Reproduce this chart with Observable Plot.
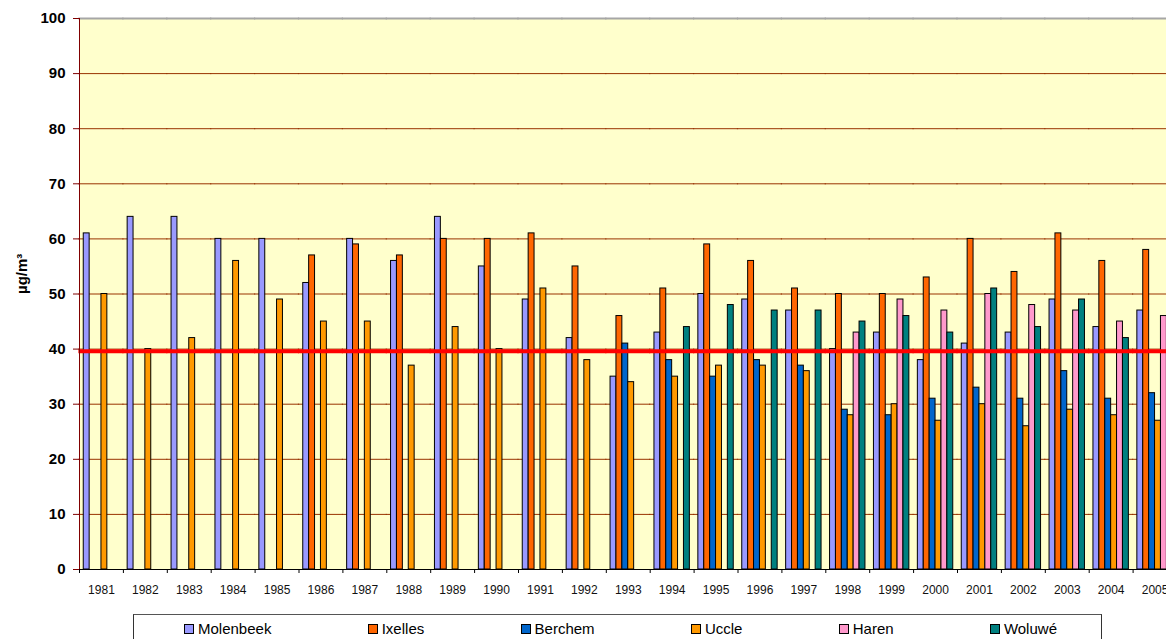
<!DOCTYPE html>
<html>
<head>
<meta charset="utf-8">
<script src="https://cdn.jsdelivr.net/npm/d3@7"></script>
<script src="https://cdn.jsdelivr.net/npm/@observablehq/plot@0.6"></script>
<style>
  html, body { margin: 0; padding: 0; background: #fff; overflow: hidden; }
  body { width: 1166px; height: 639px; position: relative; font-family: "Liberation Sans", Arial, sans-serif; }
  #chart svg { display: block; }
  #legend {
    position: absolute; left: 133px; top: 614px; width: 969px; height: 40px;
    box-sizing: border-box; border: 1px solid #333; border-top-color: #555;
    display: flex; justify-content: space-between; align-items: flex-start;
    padding: 5px 44px 0 50px; font-size: 15px; color: #000; background: #fff;
  }
  #legend .item { display: flex; align-items: center; line-height: 17px; white-space: nowrap; }
  #legend .sw { width: 8px; height: 8px; border: 1px solid #000; margin-right: 4px; }
</style>
</head>
<body>
<div id="chart"></div>
<div id="legend"></div>
<script>
// Annual mean NO2 concentrations (µg/m³) at Brussels measuring stations.
const years = ["1981","1982","1983","1984","1985","1986","1987","1988","1989","1990",
               "1991","1992","1993","1994","1995","1996","1997","1998","1999","2000",
               "2001","2002","2003","2004","2005"];
const stations = ["Molenbeek", "Ixelles", "Berchem", "Uccle", "Haren", "Woluwé"];
const stationColors = ["#9999FF", "#FF6600", "#0066CC", "#FF9900", "#FF99CC", "#008080"];

const molenbeek = [61, 64, 64, 60, 60, 52, 60, 56, 64, 55, 49, 42, 35, 43, 50, 49, 47, 40, 43, 38, 41, 43, 49, 44, 47];
const ixelles   = [null, null, null, null, null, 57, 59, 57, 60, 60, 61, 55, 46, 51, 59, 56, 51, 50, 50, 53, 60, 54, 61, 56, 58];
const berchem   = [null, null, null, null, null, null, null, null, null, null, null, null, 41, 38, 35, 38, 37, 29, 28, 31, 33, 31, 36, 31, 32];
const uccle     = [50, 40, 42, 56, 49, 45, 45, 37, 44, 40, 51, 38, 34, 35, 37, 37, 36, 28, 30, 27, 30, 26, 29, 28, 27];
const haren     = [null, null, null, null, null, null, null, null, null, null, null, null, null, null, null, null, null, 43, 49, 47, 50, 48, 47, 45, 46];
const woluwe    = [null, null, null, null, null, null, null, null, null, null, null, null, null, 44, 48, 47, 47, 45, 46, 43, 51, 44, 49, 42, null];

const yTicks = [0, 10, 20, 30, 40, 50, 60, 70, 80, 90, 100];
const limitValue = 39.6;
const unitLabel = "µg/m³";

const seriesValues = [molenbeek, ixelles, berchem, uccle, haren, woluwe];
const rows = years.flatMap((year, i) =>
  stations.map((station, j) => ({year, station, value: seriesValues[j][i]}))
).filter(d => d.value != null);

// Layout
const width = 1166, height = 605;
const marginLeft = 79, marginTop = 18, plotBottom = 569;
const bandStep = 43.9; // width of one year group; the last group runs past the right edge
const font = '"Liberation Sans", Arial, sans-serif';
// horizontal rules are repeated in every year facet; a small overlap hides the joins
const joined = {insetLeft: -0.6, insetRight: -0.6};

const chart = Plot.plot({
  width, height,
  marginLeft, marginTop, marginRight: 0, marginBottom: height - plotBottom,
  style: {fontFamily: font, background: "#fff", color: "#000"},
  facet: {marginTop: 0, marginRight: 0, marginBottom: 0, marginLeft: 0},
  fx: {domain: years, range: [marginLeft, marginLeft + years.length * bandStep], padding: 0, round: false, label: null},
  x: {domain: stations, paddingInner: 0, paddingOuter: 0.72, round: false, axis: null},
  y: {domain: [0, 100], label: null},
  color: {domain: stations, range: stationColors},
  marks: [
    Plot.frame({fill: "#FFFFCC", stroke: null, facet: "super"}),
    Plot.ruleY(yTicks.filter(v => v > 0 && v < 100), {stroke: "#993300", strokeWidth: 1, ...joined}),
    Plot.ruleY([100], {stroke: "#a6a6a6", strokeWidth: 2, ...joined}),
    Plot.barY(rows, {fx: "year", x: "station", y: "value", fill: "station", stroke: "#000", strokeWidth: 1}),
    Plot.ruleY([limitValue], {stroke: "#FF0000", strokeWidth: 4, ...joined}),
    Plot.ruleY([0], {stroke: "#000", strokeWidth: 1, ...joined}),
    Plot.frame({anchor: "left", stroke: "#800000", facet: "super"}),
    Plot.axisY(yTicks, {anchor: "left", tickSize: 6, tickPadding: 8, stroke: "#800000", fill: "#000",
      fontSize: 15, fontWeight: "bold", label: null}),
    Plot.axisFx({anchor: "bottom", tickSize: 0, tickPadding: 16, fontSize: 12, fill: "#111", label: null}),
    Plot.axisFx({anchor: "bottom", text: null, tickSize: 4, dx: -bandStep / 2, stroke: "#000", label: null}),
    Plot.text([unitLabel], {text: d => d, frameAnchor: "left", rotate: -90, dx: -57,
      fontSize: 15, fontWeight: "bold", fill: "#000", facet: "super"})
  ]
});
document.getElementById("chart").append(chart);

// Legend below the chart
const legend = document.getElementById("legend");
stations.forEach((name, i) => {
  const item = document.createElement("div");
  item.className = "item";
  const sw = document.createElement("span");
  sw.className = "sw";
  sw.style.background = stationColors[i];
  item.append(sw, document.createTextNode(name));
  legend.append(item);
});
</script>
</body>
</html>
